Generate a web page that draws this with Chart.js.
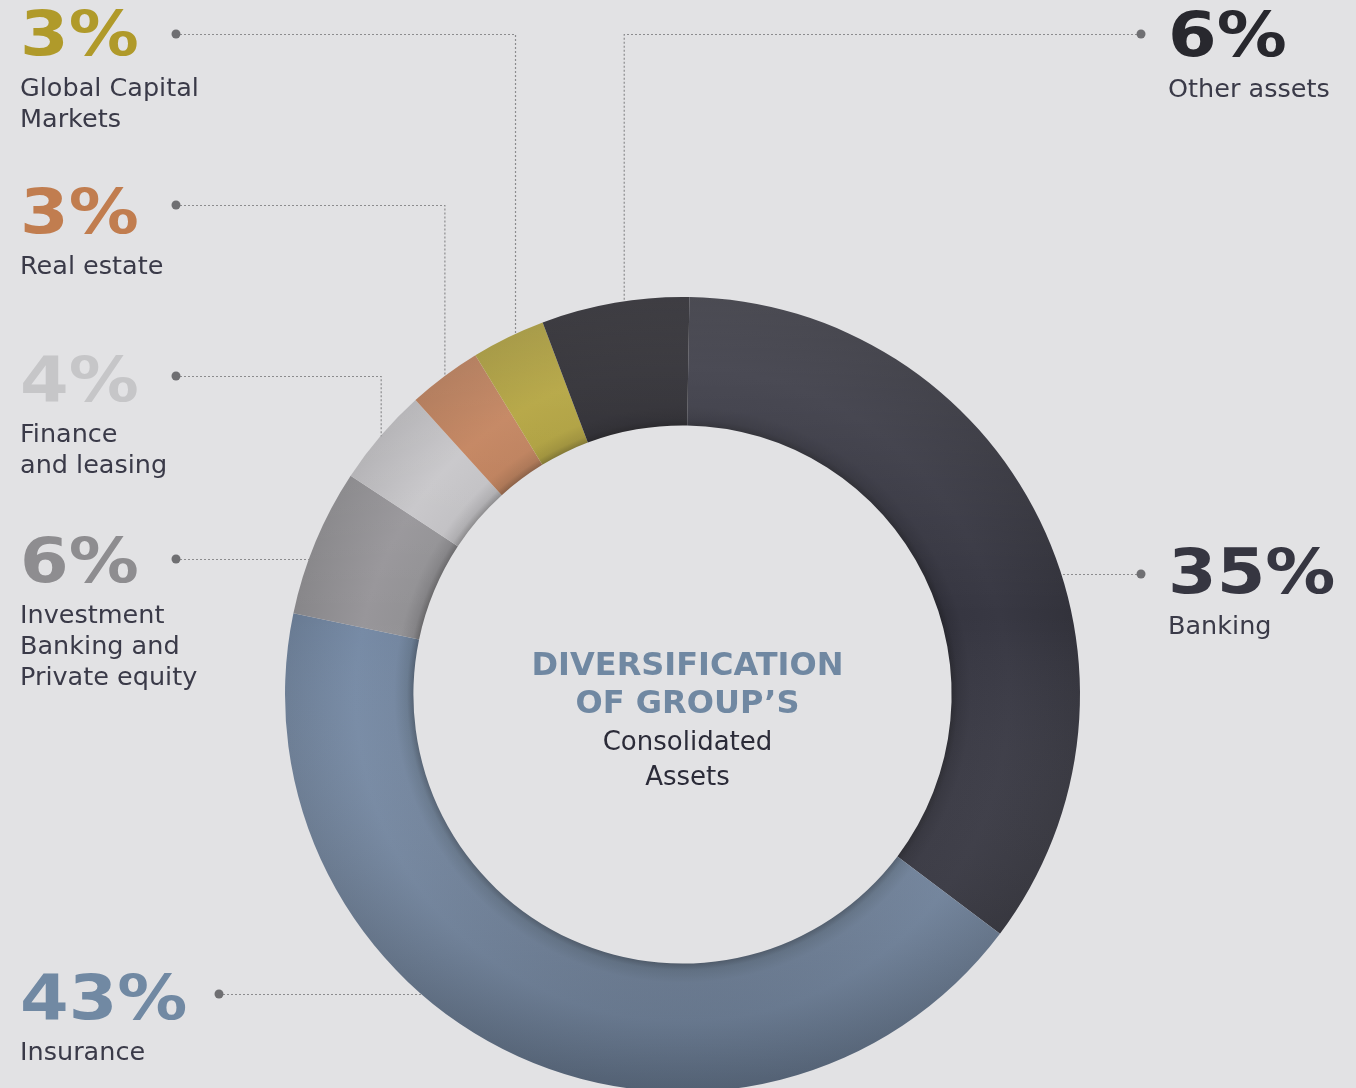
<!DOCTYPE html>
<html>
<head>
<meta charset="utf-8">
<script src="https://cdn.jsdelivr.net/npm/chart.js@4.4.0/dist/chart.umd.min.js"></script>
<style>
  html, body { margin: 0; padding: 0; background: #e2e2e4; overflow: hidden; }
  #wrap { width: 1356px; height: 1100px; }
</style>
</head>
<body>
<div id="wrap"><canvas id="assetsChart" width="1356" height="1100"></canvas></div>
<script>
// --- data ---
const categories = ['Banking', 'Insurance', 'Investment Banking and Private equity', 'Finance and leasing', 'Real estate', 'Global Capital Markets', 'Other assets'];
const shares = [35, 43, 6, 4, 3, 3, 6];
const labelLines = [
    ['Banking'],
    ['Insurance'],
    ['Investment', 'Banking and', 'Private equity'],
    ['Finance', 'and leasing'],
    ['Real estate'],
    ['Global Capital', 'Markets'],
    ['Other assets']
];
const centerTitle = ['DIVERSIFICATION', 'OF GROUP\u2019S'];
const centerSub = ['Consolidated', 'Assets'];

// --- styles ---
const sliceColors = ['#373742', '#7589a3', '#969598', '#c5c4c7', '#c0805a', '#b0a03a', '#28272d'];
const pctColors = ['#363641', '#7189a3', '#8e8d90', '#c6c6c8', '#c17d4f', '#b09a2a', '#28282e'];
const textColor = '#3a3a48';

// label placement (left/right columns), one entry per slice
// 'at' = where along the slice a dropped leader meets the ring
const labelPos = [
    { x: 1168, base: 593, dotX: 1141, dotY: 574, leader: 'flat' },
    { x: 20, base: 1019, dotX: 219, dotY: 994, leader: 'flat' },
    { x: 20, base: 582, dotX: 176, dotY: 559, leader: 'flat' },
    { x: 20, base: 401, dotX: 176, dotY: 376, leader: 'drop', at: 0.5 },
    { x: 20, base: 233, dotX: 176, dotY: 205, leader: 'drop', at: 0.5 },
    { x: 20, base: 55, dotX: 176, dotY: 34, leader: 'drop', at: 0.6 },
    { x: 1168, base: 56, dotX: 1141, dotY: 34, leader: 'drop', at: 0.56 }
];

function shade(hex, f) {
    const n = parseInt(hex.slice(1), 16);
    const c = [(n >> 16) & 255, (n >> 8) & 255, n & 255].map(v => Math.max(0, Math.min(255, Math.round(v * f))));
    return 'rgb(' + c.join(',') + ')';
}

const CUTOUT = 0.677;

function ringGradient(context) {
    const chart = context.chart;
    const base = sliceColors[context.dataIndex];
    const area = chart.chartArea;
    if (!area) return base;
    const cx = (area.left + area.right) / 2;
    const cy = (area.top + area.bottom) / 2;
    const r = Math.min(area.right - area.left, area.bottom - area.top) / 2;
    const g = chart.ctx.createRadialGradient(cx, cy, r * CUTOUT, cx, cy, r);
    g.addColorStop(0, shade(base, 0.7));
    g.addColorStop(0.05, shade(base, 0.88));
    g.addColorStop(0.15, shade(base, 0.98));
    g.addColorStop(0.45, shade(base, 1.01));
    g.addColorStop(1, shade(base, 0.9));
    return g;
}

// light from the top, darker towards the bottom of the ring
const ringLight = {
    id: 'ringLight',
    afterDatasetsDraw(chart) {
        const { ctx, chartArea } = chart;
        ctx.save();
        ctx.globalCompositeOperation = 'source-atop';
        const g = ctx.createLinearGradient(0, chartArea.top, 0, chartArea.bottom);
        g.addColorStop(0, 'rgba(255,255,255,0.12)');
        g.addColorStop(0.4, 'rgba(255,255,255,0)');
        g.addColorStop(1, 'rgba(0,0,0,0.22)');
        ctx.fillStyle = g;
        ctx.fillRect(chartArea.left, chartArea.top, chartArea.right - chartArea.left, chartArea.bottom - chartArea.top);
        ctx.restore();
    }
};

// leader lines, percentages, category names and centre text
const callouts = {
    id: 'callouts',
    afterDraw(chart) {
        const ctx = chart.ctx;
        const arcs = chart.getDatasetMeta(0).data;
        const first = arcs[0].getProps(['x', 'y', 'outerRadius'], true);
        const cx = first.x, cy = first.y, R = first.outerRadius;

        arcs.forEach((arc, i) => {
            const p = arc.getProps(['startAngle', 'endAngle'], true);
            const pos = labelPos[i];
            let pts;
            if (pos.leader === 'drop') {
                const a = p.startAngle + (p.endAngle - p.startAngle) * pos.at;
                const ax = cx + R * Math.cos(a);
                const ay = cy + R * Math.sin(a);
                pts = [[pos.dotX, pos.dotY], [ax, pos.dotY], [ax, ay]];
            } else {
                const dy = pos.dotY - cy;
                const dx = Math.sqrt(Math.max(0, R * R - dy * dy));
                const ex = pos.dotX < cx ? cx - dx : cx + dx;
                pts = [[pos.dotX, pos.dotY], [ex, pos.dotY]];
            }
            ctx.save();
            ctx.strokeStyle = '#8c8c8e';
            ctx.lineWidth = 1.2;
            ctx.setLineDash([2, 2]);
            ctx.beginPath();
            ctx.moveTo(pts[0][0], pts[0][1] + 0.5);
            for (let k = 1; k < pts.length; k++) ctx.lineTo(pts[k][0] + 0.5, pts[k][1] + 0.5);
            ctx.stroke();
            ctx.setLineDash([]);
            ctx.fillStyle = '#6f6f72';
            ctx.beginPath();
            ctx.arc(pos.dotX, pos.dotY, 4.5, 0, Math.PI * 2);
            ctx.fill();

            ctx.textAlign = 'left';
            ctx.textBaseline = 'alphabetic';
            // percentage: widened a little to match the reference face
            ctx.save();
            ctx.translate(pos.x, pos.base);
            ctx.scale(1.11, 1);
            ctx.fillStyle = pctColors[i];
            ctx.font = 'bold 63px "DejaVu Sans"';
            ctx.fillText(shares[i] + '%', 0, 0);
            ctx.restore();

            ctx.fillStyle = textColor;
            ctx.font = '25.5px "DejaVu Sans"';
            labelLines[i].forEach((line, k) => {
                ctx.fillText(line, pos.x, pos.base + 41 + k * 31);
            });
            ctx.restore();
        });

        ctx.save();
        ctx.textAlign = 'center';
        ctx.textBaseline = 'alphabetic';
        const tx = cx + 5;
        ctx.fillStyle = '#7088a2';
        ctx.font = 'bold 32px "DejaVu Sans"';
        ctx.fillText(centerTitle[0], tx, 675);
        ctx.fillText(centerTitle[1], tx, 713);
        ctx.fillStyle = '#2b2b38';
        ctx.font = '26px "DejaVu Sans"';
        ctx.fillText(centerSub[0], tx, 750);
        ctx.fillText(centerSub[1], tx, 785);
        ctx.restore();
    }
};

new Chart(document.getElementById('assetsChart').getContext('2d'), {
    type: 'doughnut',
    data: {
        labels: categories,
        datasets: [{
            data: shares,
            backgroundColor: ringGradient,
            borderWidth: 0,
            hoverOffset: 0
        }]
    },
    options: {
        responsive: false,
        animation: false,
        devicePixelRatio: 1,
        cutout: (CUTOUT * 100) + '%',
        rotation: 1,
        layout: { padding: { left: 285, right: 276, top: 297, bottom: 8 } },
        plugins: {
            legend: { display: false },
            tooltip: { enabled: false }
        }
    },
    plugins: [ringLight, callouts]
});
</script>
</body>
</html>
